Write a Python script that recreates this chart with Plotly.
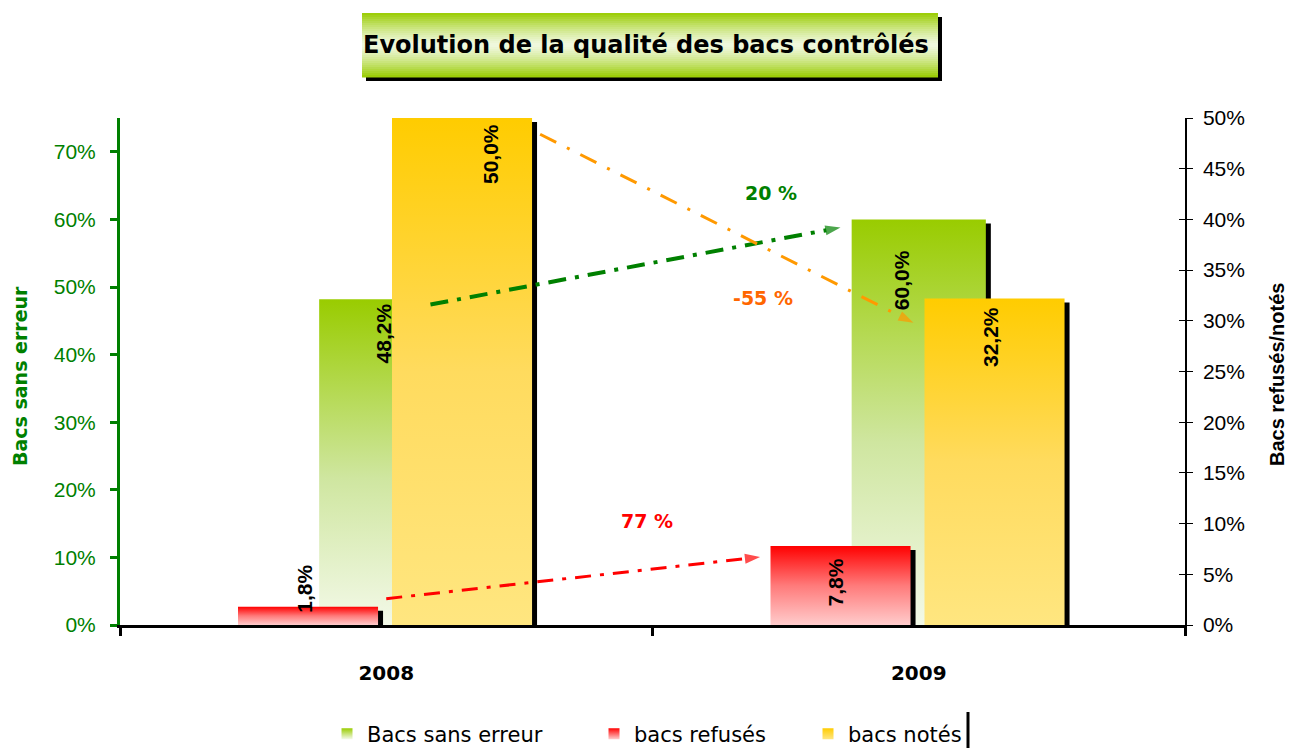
import plotly.graph_objects as go

# ---------------- data ----------------
categories = ["2008", "2009"]
sans_erreur = [48.2, 60.0]      # primary axis (left)
refuses = [1.8, 7.8]            # secondary axis (right)
notes = [50.0, 32.2]            # secondary axis (right)
series_names = ["Bacs sans erreur", "bacs refusés", "bacs notés"]

# evolution arrows (data coords: category index, right-axis %)
arrow_labels = ["20 %", "-55 %", "77 %"]
arrow_x0 = [0.083, 0.289, 0.0]
arrow_y0 = [31.6, 48.4, 2.6]
arrow_x1 = [0.853, 0.990, 0.702]
arrow_y1 = [39.2, 29.8, 6.7]
arrow_text_x = [0.722, 0.708, 0.490]
arrow_text_y = [42.6, 32.2, 10.3]

# ---------------- styles ----------------
PX_X = 532.5          # px per category unit
PX_Y1 = 507 / 75.0    # px per % on left axis
PX_Y2 = 507 / 50.0    # px per % on right axis

GREEN_CS = [[0, "#f3f9e8"], [0.45, "#cfe6a0"], [1, "#99cc00"]]
RED_CS = [[0, "#ffcccc"], [0.5, "#ff7a7a"], [1, "#ff0000"]]
YEL_CS = [[0, "#ffe680"], [0.5, "#ffdb5e"], [1, "#ffcc00"]]

bar_specs = [
    # values, axis, offset, width, colorscale, px/unit
    (sans_erreur, "y", -0.126, 0.252, GREEN_CS, PX_Y1),
    (refuses, "y2", -0.2784, 0.263, RED_CS, PX_Y2),
    (notes, "y2", 0.0108, 0.263, YEL_CS, PX_Y2),
]

fig = go.Figure()

def rect(x0, x1, top):
    return [x0, x0, x1, x1, x0], [0, top, top, 0, 0]

# shadows + bars
for vals, yax, off, w, cs, pxu in bar_specs:
    for i, v in enumerate(vals):
        sx = 5 / PX_X
        xs, ys = rect(i + off + sx, i + off + w + sx, max(v - 4 / pxu, 0))
        fig.add_trace(go.Scatter(x=xs, y=ys, yaxis=yax, fill="toself", mode="lines",
                                 line=dict(width=0), fillcolor="black",
                                 showlegend=False, hoverinfo="skip"))
    for i, v in enumerate(vals):
        xs, ys = rect(i + off, i + off + w, v)
        fig.add_trace(go.Scatter(x=xs, y=ys, yaxis=yax, fill="toself", mode="lines",
                                 line=dict(width=0),
                                 fillgradient=dict(type="vertical", colorscale=cs),
                                 showlegend=False, hoverinfo="skip"))

# arrows
arrow_colors = ["#008000", "#ff9900", "#ff0000"]
arrow_text_colors = ["#008000", "#ff6600", "#ff0000"]
arrow_widths = [4, 3, 3]
arrow_dash = ["18px,9px,4px,9px", "18px,12px,3px,12px", "16px,9px,4px,9px"]
for k in range(3):
    fig.add_trace(go.Scatter(
        x=[arrow_x0[k], arrow_x1[k]], y=[arrow_y0[k], arrow_y1[k]], yaxis="y2",
        mode="lines+markers",
        line=dict(color=arrow_colors[k], width=arrow_widths[k], dash=arrow_dash[k]),
        marker=dict(symbol="arrow", angleref="previous", size=[0, 16],
                    color=arrow_colors[k], line=dict(width=0)),
        showlegend=False, hoverinfo="skip"))
    fig.add_annotation(x=arrow_text_x[k], y=arrow_text_y[k], yref="y2", xref="x",
                       xanchor="center", yanchor="middle",
                       text="<b>" + arrow_labels[k] + "</b>", showarrow=False,
                       font=dict(family="DejaVu Sans", size=19, color=arrow_text_colors[k]))

# data labels
label_pad = [[2, 29], [-44, 11], [4, 7]]     # px below bar top
label_dx = [[-3, -17], [-3, -5], [28, -4]]   # px shift from bar centre
for s, (vals, yax, off, w, cs, pxu) in enumerate(bar_specs):
    for i, v in enumerate(vals):
        fig.add_annotation(x=i + off + w / 2, y=v, xref="x", yref=yax,
                           text="<b>" + f"{v:.1f}".replace(".", ",") + "%</b>",
                           textangle=-90, showarrow=False, yanchor="top", xanchor="center",
                           xshift=label_dx[s][i], yshift=-label_pad[s][i],
                           font=dict(family="Liberation Sans", size=21, color="black"))

# legend entries
legend_cols = [("#99cc00", "#f3f9e8"), ("#ff0000", "#ffcccc"), ("#ffcc00", "#ffe680")]
legend_names = ["legend", "legend2", "legend3"]
for k in range(3):
    fig.add_trace(go.Scatter(
        x=[None], y=[None], mode="markers", name=series_names[k],
        marker=dict(symbol="square", size=11, color=legend_cols[k][0],
                    gradient=dict(type="vertical", color=legend_cols[k][1])),
        legend=legend_names[k]))

# invisible helper trace so the crossing-tick axis is drawn
fig.add_trace(go.Scatter(x=[None], y=[None], yaxis="y3", showlegend=False,
                         hoverinfo="skip"))

W, H, OFF = 1299, 751, 8   # page body offsets the figure by 8px

def px2paper_x(px):
    return (px - 120) / 1065

def px2paper_y(py):
    return (625 - py) / 507

def cont_x(px):
    return (px - OFF) / W

def cont_y(py):
    return 1 - (py - OFF) / H

legend_px = [327, 594, 808]
leg_common = dict(orientation="h", yanchor="middle", xanchor="left",
                  xref="container", yref="container",
                  font=dict(family="DejaVu Sans", size=21, color="black"),
                  bgcolor="rgba(0,0,0,0)", itemwidth=30)
fig.update_layout(
    legend=dict(x=cont_x(legend_px[0]), y=cont_y(734), **leg_common),
    legend2=dict(x=cont_x(legend_px[1]), y=cont_y(734), **leg_common),
    legend3=dict(x=cont_x(legend_px[2]), y=cont_y(734), **leg_common),
)

# title box with gradient strips
shapes = []
tx0, tx1, ty0, ty1 = 362, 938, 13, 77
shapes.append(dict(type="rect", xref="paper", yref="paper", layer="below",
                   x0=px2paper_x(tx0 + 4), x1=px2paper_x(tx1 + 4),
                   y0=px2paper_y(ty0 + 4), y1=px2paper_y(ty1 + 4),
                   fillcolor="black", line=dict(width=0)))
n = 32
def lerp(c1, c2, t):
    return "rgb(%d,%d,%d)" % tuple(round(a + (b - a) * t) for a, b in zip(c1, c2))
dark = (153, 204, 0)
light = (240, 248, 222)
for j in range(n):
    ya = ty0 + (ty1 - ty0) * j / n
    yb = ty0 + (ty1 - ty0) * (j + 1) / n
    t = abs((j + 0.5) / n - 0.5) * 2  # 1 at edges, 0 in middle
    col = lerp(light, dark, t ** 1.3)
    shapes.append(dict(type="rect", xref="paper", yref="paper",
                       x0=px2paper_x(tx0), x1=px2paper_x(tx1),
                       y0=px2paper_y(yb) - 0.001, y1=px2paper_y(ya),
                       fillcolor=col, line=dict(width=0)))
# small black bar at right of legend
shapes.append(dict(type="line", xref="paper", yref="paper",
                   x0=px2paper_x(968), x1=px2paper_x(968),
                   y0=px2paper_y(712), y1=px2paper_y(748),
                   line=dict(color="black", width=3)))

fig.add_annotation(xref="paper", yref="paper", x=px2paper_x(646), y=px2paper_y(45),
                   xanchor="center", yanchor="middle",
                   text="<b>Evolution de la qualité des bacs contrôlés</b>",
                   showarrow=False, font=dict(family="DejaVu Sans", size=24, color="black"))

# axis titles
fig.add_annotation(xref="paper", yref="paper", x=px2paper_x(20), y=px2paper_y(376),
                   xanchor="center", yanchor="middle",
                   text="<b>Bacs sans erreur</b>", textangle=-90, showarrow=False,
                   font=dict(family="DejaVu Sans", size=19, color="#008000"))
fig.add_annotation(xref="paper", yref="paper", x=px2paper_x(1277), y=px2paper_y(375),
                   xanchor="center", yanchor="middle",
                   text="<b>Bacs refusés/notés</b>", textangle=-90, showarrow=False,
                   font=dict(family="Liberation Sans", size=20, color="black"))

# margins place the plot area at x 120..1185, y 118..625 on screen
fig.update_layout(
    width=W, height=H,
    margin=dict(l=120 - OFF, r=W - (1185 - OFF), t=118 - OFF, b=H - (625 - OFF)),
    paper_bgcolor="white", plot_bgcolor="white",
    shapes=shapes,
    xaxis=dict(range=[-0.5, 1.5], tickvals=[0, 1],
               ticktext=["<b>" + c + "</b>" for c in categories],
               showgrid=False, zeroline=False, showline=True, linecolor="black",
               linewidth=3, ticks="", ticklabelstandoff=28,
               tickfont=dict(family="DejaVu Sans", size=20, color="black"),
               minor=dict(tick0=-0.5, dtick=1, ticks="outside", ticklen=8,
                          tickwidth=3, tickcolor="black", showgrid=False)),
    yaxis=dict(range=[0, 75], dtick=10, ticksuffix="%", showgrid=False, zeroline=False,
               showline=True, linecolor="#008000", linewidth=3,
               ticks="outside", ticklen=7, tickwidth=3, tickcolor="#008000",
               ticklabelstandoff=10,
               tickfont=dict(family="Liberation Sans", size=21, color="#008000")),
    yaxis2=dict(range=[0, 50], dtick=5, ticksuffix="%", overlaying="y", side="right",
                showgrid=False, zeroline=False, showline=True, linecolor="black",
                linewidth=1.5, ticks="outside", ticklen=6, tickcolor="black",
                ticklabelstandoff=6,
                tickfont=dict(family="Liberation Sans", size=21, color="black")),
    yaxis3=dict(range=[0, 50], dtick=5, overlaying="y", side="right",
                showgrid=False, zeroline=False, showline=False, showticklabels=False,
                ticks="inside", ticklen=6, tickcolor="black"),
)

fig.write_html("out.html")
